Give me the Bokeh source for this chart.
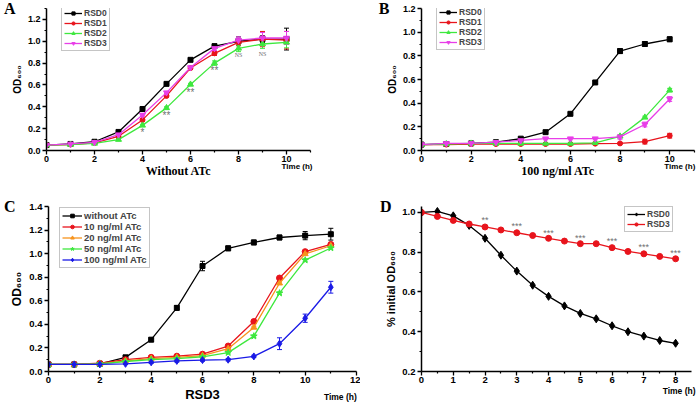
from bokeh.plotting import figure
from bokeh.models import (ColumnDataSource, Legend, LegendItem, FixedTicker, LinearAxis,
                          PrintfTickFormatter, Whisker, TeeHead)
from bokeh.layouts import column, row
from bokeh.embed import file_html
from bokeh.resources import INLINE
from bokeh.core.properties import value

# ---------------- data ----------------
# Panel A: without ATc
time_ab = [0, 1, 2, 3, 4, 5, 6, 7, 8, 9, 10]
a_rsd0 = [0.05, 0.06, 0.08, 0.17, 0.38, 0.61, 0.83, 0.955, 1.00, 1.02, 1.02]
a_rsd1 = [0.05, 0.055, 0.07, 0.13, 0.28, 0.50, 0.755, 0.89, 0.99, 1.02, 1.01]
a_rsd2 = [0.05, 0.055, 0.065, 0.10, 0.23, 0.39, 0.605, 0.80, 0.935, 0.975, 0.99]
a_rsd3 = [0.05, 0.06, 0.075, 0.145, 0.325, 0.53, 0.76, 0.935, 1.01, 1.03, 1.03]
ae_rsd0 = [0.005, 0.005, 0.005, 0.01, 0.01, 0.01, 0.01, 0.02, 0.04, 0.03, 0.10]
ae_rsd1 = [0.005, 0.005, 0.005, 0.01, 0.01, 0.01, 0.01, 0.02, 0.03, 0.07, 0.08]
ae_rsd2 = [0.005, 0.005, 0.005, 0.01, 0.01, 0.01, 0.01, 0.02, 0.03, 0.04, 0.05]
ae_rsd3 = [0.005, 0.005, 0.005, 0.01, 0.01, 0.01, 0.01, 0.02, 0.03, 0.05, 0.06]
a_sig_x = [4, 5, 6, 7]
a_sig_y = [0.165, 0.32, 0.535, 0.73]
a_sig_t = ["*", "**", "**", "**"]
a_ns_x = [8, 9]
a_ns_y = [0.875, 0.885]
a_ns_t = ["NS", "NS"]

# Panel B: 100 ng/ml ATc
b_rsd0 = [0.05, 0.055, 0.06, 0.07, 0.10, 0.155, 0.31, 0.575, 0.84, 0.90, 0.94]
b_rsd1 = [0.05, 0.05, 0.055, 0.055, 0.055, 0.055, 0.055, 0.058, 0.06, 0.075, 0.125]
b_rsd2 = [0.05, 0.055, 0.06, 0.06, 0.06, 0.06, 0.06, 0.065, 0.12, 0.28, 0.51]
b_rsd3 = [0.05, 0.06, 0.06, 0.07, 0.085, 0.10, 0.10, 0.10, 0.115, 0.22, 0.435]
be_rsd0 = [0.005, 0.005, 0.005, 0.005, 0.01, 0.01, 0.01, 0.01, 0.02, 0.02, 0.02]
be_rsd1 = [0.005, 0.005, 0.005, 0.005, 0.005, 0.005, 0.005, 0.005, 0.005, 0.02, 0.02]
be_rsd2 = [0.005, 0.005, 0.005, 0.005, 0.005, 0.005, 0.005, 0.005, 0.01, 0.01, 0.015]
be_rsd3 = [0.005, 0.005, 0.005, 0.005, 0.005, 0.01, 0.01, 0.01, 0.02, 0.02, 0.02]

# Panel C: RSD3 at different ATc
time_c = [0, 1, 2, 3, 4, 5, 6, 7, 8, 9, 10, 11]
c_none = [0.06, 0.06, 0.065, 0.12, 0.27, 0.54, 0.895, 1.045, 1.095, 1.137, 1.153, 1.165]
c_10 = [0.06, 0.06, 0.07, 0.10, 0.12, 0.13, 0.147, 0.216, 0.424, 0.793, 1.017, 1.078]
c_20 = [0.06, 0.06, 0.065, 0.09, 0.11, 0.12, 0.135, 0.194, 0.374, 0.749, 0.998, 1.067]
c_50 = [0.06, 0.06, 0.065, 0.085, 0.10, 0.11, 0.125, 0.16, 0.30, 0.665, 0.945, 1.048]
c_100 = [0.06, 0.06, 0.06, 0.065, 0.078, 0.09, 0.097, 0.10, 0.128, 0.236, 0.452, 0.715]
ce_none = [0.005, 0.005, 0.005, 0.01, 0.015, 0.02, 0.04, 0.02, 0.02, 0.02, 0.035, 0.05]
ce_10 = [0.005, 0.005, 0.005, 0.005, 0.005, 0.005, 0.005, 0.01, 0.01, 0.01, 0.01, 0.01]
ce_20 = [0.005, 0.005, 0.005, 0.005, 0.005, 0.005, 0.005, 0.01, 0.01, 0.01, 0.01, 0.01]
ce_50 = [0.005, 0.005, 0.005, 0.005, 0.005, 0.005, 0.005, 0.01, 0.01, 0.01, 0.01, 0.01]
ce_100 = [0.005, 0.005, 0.005, 0.005, 0.01, 0.01, 0.01, 0.01, 0.01, 0.05, 0.035, 0.05]

# Panel D: % initial OD600
time_d = [0, 0.5, 1, 1.5, 2, 2.5, 3, 3.5, 4, 4.5, 5, 5.5, 6, 6.5, 7, 7.5, 8]
d_rsd0 = [1.0, 1.005, 0.983, 0.935, 0.87, 0.785, 0.705, 0.634, 0.578, 0.53, 0.492,
          0.465, 0.43, 0.40, 0.378, 0.356, 0.342]
d_rsd3 = [1.0, 0.98, 0.96, 0.942, 0.927, 0.912, 0.898, 0.884, 0.87, 0.856, 0.843,
          0.843, 0.823, 0.804, 0.792, 0.779, 0.767]
d_sig_x = [2, 3, 4, 5, 6, 7, 8]
d_sig_y = [0.962, 0.93, 0.896, 0.873, 0.855, 0.825, 0.797]
d_sig_t = ["**", "***", "***", "***", "***", "***", "***"]

# ---------------- styling ----------------
BLACK = "#000000"
RED = "#e8141c"
GREEN = "#3ee83e"
MAGENTA = "#e83ee8"
ORANGE = "#f7941d"
BLUE = "#1a1ae6"
GRAY = "#707070"
SANS = "Liberation Sans"
SERIF = "Liberation Serif"
AXPROPS = LinearAxis.properties()
HAS_ALIGN = "axis_label_align" in AXPROPS
HAS_ORIENT = "axis_label_orientation" in AXPROPS


def make_fig(w, h, bl, br, bt, bb, xr, yr, xt, xm, yt, ym, fs, ylab, ylab_fs,
             xlab=None, xlab_font=SANS, xlab_fs="12px", xlab_standoff=0, xfmt="%d"):
    p = figure(width=w, height=h, x_range=xr, y_range=yr,
               output_backend="svg", toolbar_location=None,
               min_border_left=bl, min_border_right=br,
               min_border_top=bt, min_border_bottom=bb)
    p.outline_line_color = None
    p.xgrid.visible = False
    p.ygrid.visible = False
    p.background_fill_color = "white"
    p.border_fill_color = "white"
    p.xaxis.ticker = FixedTicker(ticks=xt, minor_ticks=xm)
    p.yaxis.ticker = FixedTicker(ticks=yt, minor_ticks=ym)
    p.xaxis.formatter = PrintfTickFormatter(format=xfmt)
    p.yaxis.formatter = PrintfTickFormatter(format="%.1f")
    for ax in (p.xaxis[0], p.yaxis[0]):
        ax.axis_line_width = 1.5
        ax.axis_line_color = BLACK
        ax.major_tick_out = 4
        ax.major_tick_in = 0
        ax.minor_tick_out = 2
        ax.minor_tick_in = 0
        ax.major_tick_line_width = 1.3
        ax.minor_tick_line_width = 1.2
        ax.major_label_text_font = SANS
        ax.major_label_text_font_style = "bold"
        ax.major_label_text_font_size = fs
        ax.major_label_text_color = BLACK
        ax.axis_label_text_font = SANS
        ax.axis_label_text_font_style = "bold"
        ax.axis_label_text_color = BLACK
    p.yaxis.major_label_standoff = 2
    p.yaxis.axis_label_standoff = 2
    p.xaxis.major_label_standoff = 1
    p.yaxis.axis_label = ylab
    p.yaxis.axis_label_text_font_size = ylab_fs
    if xlab:
        p.xaxis.axis_label = xlab
        p.xaxis.axis_label_text_font = xlab_font
        p.xaxis.axis_label_text_font_size = xlab_fs
        p.xaxis.axis_label_standoff = xlab_standoff
    return p


def letter_axis(p, text, standoff):
    ax = LinearAxis(ticker=FixedTicker(ticks=[], minor_ticks=[]),
                    axis_line_color=None, major_tick_line_color=None,
                    minor_tick_line_color=None, major_tick_out=0, minor_tick_out=0,
                    major_tick_in=0, minor_tick_in=0, major_label_standoff=0,
                    axis_label=text, axis_label_text_font=SERIF,
                    axis_label_text_font_style="bold", axis_label_text_font_size="16px",
                    axis_label_text_color=BLACK, axis_label_standoff=standoff)
    if HAS_ORIENT:
        ax.axis_label_orientation = "horizontal"
    if HAS_ALIGN:
        ax.axis_label_align = "end"
    p.add_layout(ax, "left")


def time_axis(p, xc, size, standoff):
    # "Time (h)" written as a single tick label under the right end of the x axis
    ax = LinearAxis(ticker=FixedTicker(ticks=[xc], minor_ticks=[]),
                    major_label_overrides={xc: "Time (h)"},
                    axis_line_color=None, major_tick_line_color=None,
                    minor_tick_line_color=None, major_tick_out=0, minor_tick_out=0,
                    major_tick_in=0, minor_tick_in=0, major_label_standoff=standoff,
                    major_label_text_font=SANS, major_label_text_font_style="bold",
                    major_label_text_font_size=size, major_label_text_color=BLACK)
    p.add_layout(ax, "below")


def series(p, name, x, y, err, color, marker, size):
    ln = p.line(x, y, line_color=color, line_width=1.3)
    sc = p.scatter(x, y, marker=marker, size=size, fill_color=color, line_color=color)
    if err is not None:
        src = ColumnDataSource(dict(x=x, lo=[a - e for a, e in zip(y, err)],
                                    hi=[a + e for a, e in zip(y, err)]))
        wh = Whisker(base="x", lower="lo", upper="hi", source=src,
                     line_color=color, line_width=1,
                     upper_head=TeeHead(size=5, line_color=color, line_width=1),
                     lower_head=TeeHead(size=5, line_color=color, line_width=1))
        p.add_layout(wh)
    return LegendItem(label=name, renderers=[ln, sc])


def add_legend(p, items, loc, fs, gw, gh):
    lg = Legend(items=items, location=loc, label_text_font=SANS,
                label_text_font_style="bold", label_text_font_size=fs,
                glyph_width=gw, glyph_height=gh, label_height=gh,
                spacing=0, padding=2, margin=0, label_standoff=2,
                border_line_color="#8c8c8c", border_line_width=1,
                background_fill_color="white", background_fill_alpha=1)
    p.add_layout(lg)


def sig(p, xs, ys, ts, size, font=SANS):
    src = ColumnDataSource(dict(x=xs, y=ys, t=ts))
    p.text(x="x", y="y", text="t", source=src, text_align="center",
           text_baseline="middle", text_font=value(font), text_font_size=size,
           text_color=GRAY)


ab_xt = [0, 2, 4, 6, 8, 10]
ab_xm = [1, 3, 5, 7, 9, 11]
OD = "OD\u2086\u2080\u2080"

# ---------------- Panel A ----------------
pA = make_fig(348, 197, 42, 38, 8, 47, (0, 11), (0, 1.3), ab_xt, ab_xm,
              [0, 0.2, 0.4, 0.6, 0.8, 1.0, 1.2], [0.1, 0.3, 0.5, 0.7, 0.9, 1.1, 1.3], "9px",
              OD, "10px", "Without ATc", SERIF, "12px", -1)
itA = [series(pA, "RSD0", time_ab, a_rsd0, ae_rsd0, BLACK, "square", 5),
       series(pA, "RSD1", time_ab, a_rsd1, ae_rsd1, RED, "circle", 5),
       series(pA, "RSD2", time_ab, a_rsd2, ae_rsd2, GREEN, "triangle", 6),
       series(pA, "RSD3", time_ab, a_rsd3, ae_rsd3, MAGENTA, "inverted_triangle", 6)]
sig(pA, a_sig_x, a_sig_y, a_sig_t, "10px")
sig(pA, a_ns_x, a_ns_y, a_ns_t, "6px", SERIF)
add_legend(pA, itA, (15, 99), "8.5px", 18, 8)
time_axis(pA, 10.44, "8px", -19)
letter_axis(pA, "A", -7)

# ---------------- Panel B ----------------
pB = make_fig(348, 197, 73, 2, 8, 47, (0, 11), (0, 1.2), ab_xt, ab_xm,
              [0, 0.2, 0.4, 0.6, 0.8, 1.0, 1.2], [0.1, 0.3, 0.5, 0.7, 0.9, 1.1], "9px",
              OD, "10px", "100 ng/ml ATc", SERIF, "12px", -1)
itB = [series(pB, "RSD0", time_ab, b_rsd0, be_rsd0, BLACK, "square", 5),
       series(pB, "RSD1", time_ab, b_rsd1, be_rsd1, RED, "circle", 5),
       series(pB, "RSD2", time_ab, b_rsd2, be_rsd2, GREEN, "triangle", 6),
       series(pB, "RSD3", time_ab, b_rsd3, be_rsd3, MAGENTA, "inverted_triangle", 6)]
add_legend(pB, itB, (15, 100), "8.5px", 18, 8)
time_axis(pB, 10.41, "8px", -19)
letter_axis(pB, "B", -6)

# ---------------- Panel C ----------------
pC = make_fig(360, 207, 43, 4, 9, 33, (0, 12), (0, 1.4),
              [0, 2, 4, 6, 8, 10, 12], [1, 3, 5, 7, 9, 11],
              [0, 0.2, 0.4, 0.6, 0.8, 1.0, 1.2, 1.4], [0.1, 0.3, 0.5, 0.7, 0.9, 1.1, 1.3],
              "9.5px", OD, "12px", "RSD3", SANS, "13px", 1)
itC = [series(pC, "without ATc", time_c, c_none, ce_none, BLACK, "square", 5),
       series(pC, "10 ng/ml ATc", time_c, c_10, ce_10, RED, "circle", 6),
       series(pC, "20 ng/ml ATc", time_c, c_20, ce_20, ORANGE, "triangle", 6),
       series(pC, "50 ng/ml ATc", time_c, c_50, ce_50, GREEN, "star", 7),
       series(pC, "100 ng/ml ATc", time_c, c_100, ce_100, BLUE, "diamond", 7)]
add_legend(pC, itC, (11, 103), "9.5px", 20, 9)
time_axis(pC, 11.37, "8.5px", -13)
letter_axis(pC, "C", -8)

# ---------------- Panel D ----------------
pD = make_fig(336, 207, 61, 5, 9, 31, (0, 8.5), (0.2, 1.03),
              [0, 1, 2, 3, 4, 5, 6, 7, 8], [0.5, 1.5, 2.5, 3.5, 4.5, 5.5, 6.5, 7.5],
              [0.2, 0.4, 0.6, 0.8, 1.0], [0.3, 0.5, 0.7, 0.9], "9.5px",
              "% initial " + OD, "11px")
itD = [series(pD, "RSD0", time_d, d_rsd0, None, BLACK, "diamond", 8),
       series(pD, "RSD3", time_d, d_rsd3, None, RED, "circle", 6)]
sig(pD, d_sig_x, d_sig_y, d_sig_t, "9px")
add_legend(pD, itD, (203, 139), "8.5px", 18, 8)
time_axis(pD, 8.11, "8.5px", 0)
letter_axis(pD, "D", -9)

layout = column(row(pA, pB), row(pC, pD))
open("out.html", "w").write(file_html(layout, INLINE))
